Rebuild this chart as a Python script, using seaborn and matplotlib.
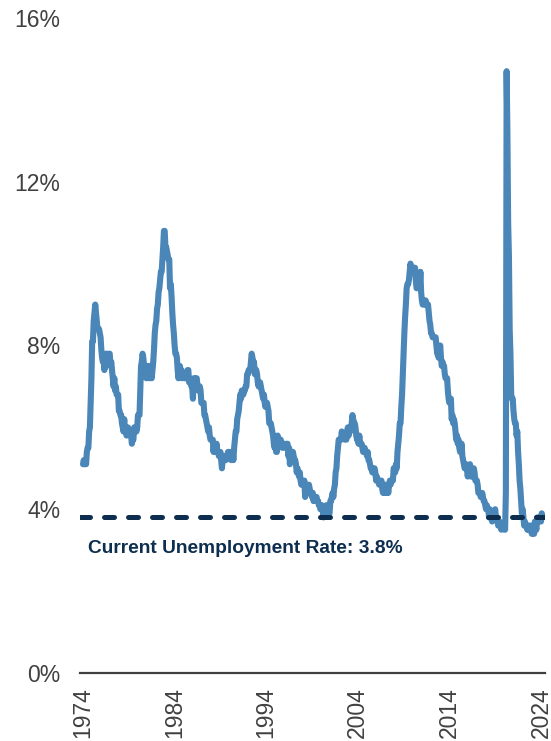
import numpy as np
import pandas as pd
import matplotlib
matplotlib.use("Agg")
import matplotlib.pyplot as plt
import seaborn as sns

# Monthly US unemployment rate (%), Jan 1974 - Mar 2024
years = list(range(1974, 2025))
rates = {
    1974: [5.1, 5.2, 5.1, 5.1, 5.1, 5.4, 5.5, 5.5, 5.9, 6.0, 6.6, 7.2],
    1975: [8.1, 8.1, 8.6, 8.8, 9.0, 8.8, 8.6, 8.4, 8.4, 8.4, 8.3, 8.2],
    1976: [7.9, 7.7, 7.6, 7.7, 7.4, 7.6, 7.8, 7.8, 7.6, 7.7, 7.8, 7.8],
    1977: [7.5, 7.6, 7.4, 7.2, 7.0, 7.2, 6.9, 7.0, 6.8, 6.8, 6.8, 6.4],
    1978: [6.4, 6.3, 6.3, 6.1, 6.0, 5.9, 6.2, 5.9, 6.0, 5.8, 5.9, 6.0],
    1979: [5.9, 5.9, 5.8, 5.8, 5.6, 5.7, 5.7, 6.0, 5.9, 6.0, 5.9, 6.0],
    1980: [6.3, 6.3, 6.3, 6.9, 7.5, 7.6, 7.8, 7.7, 7.5, 7.5, 7.5, 7.2],
    1981: [7.5, 7.4, 7.4, 7.2, 7.5, 7.5, 7.2, 7.4, 7.6, 7.9, 8.3, 8.5],
    1982: [8.6, 8.9, 9.0, 9.3, 9.4, 9.6, 9.8, 9.8, 10.1, 10.4, 10.8, 10.8],
    1983: [10.4, 10.4, 10.3, 10.2, 10.1, 10.1, 9.4, 9.5, 9.2, 8.8, 8.5, 8.3],
    1984: [8.0, 7.8, 7.8, 7.7, 7.4, 7.2, 7.5, 7.5, 7.3, 7.4, 7.2, 7.3],
    1985: [7.3, 7.2, 7.2, 7.3, 7.2, 7.4, 7.4, 7.1, 7.1, 7.1, 7.0, 7.0],
    1986: [6.7, 7.2, 7.2, 7.1, 7.2, 7.2, 7.0, 6.9, 7.0, 7.0, 6.9, 6.6],
    1987: [6.6, 6.6, 6.6, 6.3, 6.3, 6.2, 6.1, 6.0, 5.9, 6.0, 5.8, 5.7],
    1988: [5.7, 5.7, 5.7, 5.4, 5.6, 5.4, 5.4, 5.6, 5.4, 5.4, 5.3, 5.3],
    1989: [5.4, 5.2, 5.0, 5.2, 5.2, 5.3, 5.2, 5.2, 5.3, 5.3, 5.4, 5.4],
    1990: [5.4, 5.3, 5.2, 5.4, 5.4, 5.2, 5.5, 5.7, 5.9, 5.9, 6.2, 6.3],
    1991: [6.4, 6.6, 6.8, 6.7, 6.9, 6.9, 6.8, 6.9, 6.9, 7.0, 7.0, 7.3],
    1992: [7.3, 7.4, 7.4, 7.4, 7.6, 7.8, 7.7, 7.6, 7.6, 7.3, 7.4, 7.4],
    1993: [7.3, 7.1, 7.0, 7.1, 7.1, 7.0, 6.9, 6.8, 6.7, 6.8, 6.6, 6.5],
    1994: [6.6, 6.6, 6.5, 6.4, 6.1, 6.1, 6.1, 6.0, 5.9, 5.8, 5.6, 5.5],
    1995: [5.6, 5.4, 5.4, 5.8, 5.6, 5.6, 5.7, 5.7, 5.6, 5.5, 5.6, 5.6],
    1996: [5.6, 5.5, 5.5, 5.6, 5.6, 5.3, 5.5, 5.1, 5.2, 5.2, 5.4, 5.4],
    1997: [5.3, 5.2, 5.2, 5.1, 4.9, 5.0, 4.9, 4.8, 4.9, 4.7, 4.6, 4.7],
    1998: [4.6, 4.6, 4.7, 4.3, 4.4, 4.5, 4.5, 4.5, 4.6, 4.5, 4.4, 4.4],
    1999: [4.3, 4.4, 4.2, 4.3, 4.2, 4.3, 4.3, 4.2, 4.2, 4.1, 4.1, 4.0],
    2000: [4.0, 4.1, 4.0, 3.8, 4.0, 4.0, 4.0, 4.1, 3.9, 3.9, 3.9, 3.9],
    2001: [4.2, 4.2, 4.3, 4.4, 4.3, 4.5, 4.6, 4.9, 5.0, 5.3, 5.5, 5.7],
    2002: [5.7, 5.7, 5.7, 5.9, 5.8, 5.8, 5.8, 5.7, 5.7, 5.7, 5.9, 6.0],
    2003: [5.8, 5.9, 5.9, 6.0, 6.1, 6.3, 6.2, 6.1, 6.1, 6.0, 5.8, 5.7],
    2004: [5.7, 5.6, 5.8, 5.6, 5.6, 5.6, 5.5, 5.4, 5.4, 5.5, 5.4, 5.4],
    2005: [5.3, 5.4, 5.2, 5.2, 5.1, 5.0, 5.0, 4.9, 5.0, 5.0, 5.0, 4.9],
    2006: [4.7, 4.8, 4.7, 4.7, 4.6, 4.6, 4.7, 4.7, 4.5, 4.4, 4.5, 4.4],
    2007: [4.6, 4.5, 4.4, 4.5, 4.4, 4.6, 4.7, 4.6, 4.7, 4.7, 4.7, 5.0],
    2008: [5.0, 4.9, 5.1, 5.0, 5.4, 5.6, 5.8, 6.1, 6.1, 6.5, 6.8, 7.3],
    2009: [7.8, 8.3, 8.7, 9.0, 9.4, 9.5, 9.5, 9.6, 9.8, 10.0, 9.9, 9.9],
    2010: [9.8, 9.8, 9.9, 9.9, 9.6, 9.4, 9.4, 9.5, 9.5, 9.4, 9.8, 9.3],
    2011: [9.1, 9.0, 9.0, 9.1, 9.0, 9.1, 9.0, 9.0, 9.0, 8.8, 8.6, 8.5],
    2012: [8.3, 8.3, 8.2, 8.2, 8.2, 8.2, 8.2, 8.0, 7.8, 7.8, 7.7, 7.9],
    2013: [8.0, 7.7, 7.5, 7.6, 7.5, 7.5, 7.3, 7.2, 7.2, 7.2, 6.9, 6.7],
    2014: [6.6, 6.7, 6.7, 6.2, 6.3, 6.1, 6.2, 6.1, 5.9, 5.7, 5.8, 5.6],
    2015: [5.7, 5.5, 5.4, 5.4, 5.6, 5.3, 5.2, 5.1, 5.0, 5.0, 5.1, 5.0],
    2016: [4.8, 4.9, 5.0, 5.1, 4.8, 4.9, 4.8, 4.9, 5.0, 4.9, 4.7, 4.7],
    2017: [4.7, 4.6, 4.4, 4.4, 4.4, 4.3, 4.3, 4.4, 4.3, 4.2, 4.2, 4.1],
    2018: [4.0, 4.1, 4.0, 4.0, 3.8, 4.0, 3.8, 3.8, 3.7, 3.8, 3.8, 3.9],
    2019: [4.0, 3.8, 3.8, 3.7, 3.6, 3.6, 3.7, 3.6, 3.5, 3.6, 3.6, 3.6],
    2020: [3.5, 3.5, 4.4, 14.7, 13.2, 11.0, 10.2, 8.4, 7.8, 6.8, 6.7, 6.7],
    2021: [6.4, 6.2, 6.1, 6.1, 5.8, 5.9, 5.4, 5.1, 4.7, 4.5, 4.2, 3.9],
    2022: [4.0, 3.8, 3.6, 3.7, 3.6, 3.6, 3.5, 3.6, 3.5, 3.6, 3.6, 3.5],
    2023: [3.4, 3.6, 3.5, 3.4, 3.7, 3.6, 3.5, 3.8, 3.8, 3.8, 3.7, 3.7],
    2024: [3.7, 3.9, 3.8],
}
current_rate = 3.8
ytick_vals = [0, 4, 8, 12, 16]
ytick_labels = ["0%", "4%", "8%", "12%", "16%"]
xtick_years = [1974, 1984, 1994, 2004, 2014, 2024]
annotation = "Current Unemployment Rate: 3.8%"

rows = []
for y in years:
    for m, v in enumerate(rates[y]):
        rows.append({"t": y + m / 12.0, "rate": v})
df = pd.DataFrame(rows)

sns.set_theme(style="white")
plt.rcParams["font.family"] = ["Liberation Sans", "DejaVu Sans"]

fig = plt.figure(figsize=(5.51, 7.41), dpi=100)
ax = fig.add_axes([80 / 551, (741 - 673) / 741, 465 / 551, (673 - 18) / 741])

sns.lineplot(data=df, x="t", y="rate", ax=ax, color="#4a87b8", linewidth=4.4,
             solid_joinstyle="round", solid_capstyle="round", zorder=3)

ax.axhline(current_rate, color="#0d2e4f", linewidth=3.6, dashes=(2.0, 2.8),
           dash_capstyle="round", zorder=4)

ax.text(1974.5, current_rate - 0.55, annotation, color="#0d2e4f",
        fontsize=13.8, fontweight="bold", va="top", ha="left")

ax.set_xlim(1973.67, 2024.44)
ax.set_ylim(0, 16)
ax.set_yticks(ytick_vals)
ax.set_yticklabels(ytick_labels)
ax.set_xticks(xtick_years)
ax.set_xticklabels([str(v) for v in xtick_years], rotation=90)
ax.tick_params(axis="y", length=0, pad=14, labelsize=16.5, labelcolor="#404040")
ax.tick_params(axis="x", length=0, pad=10, labelsize=16.5, labelcolor="#404040")
ax.set_xlabel("")
ax.set_ylabel("")
for s in ["left", "right", "top"]:
    ax.spines[s].set_visible(False)
ax.spines["bottom"].set_color("#404040")
ax.spines["bottom"].set_linewidth(1.6)
ax.grid(False)
ax.patch.set_alpha(0)

fig.savefig("out.png", dpi=100)
